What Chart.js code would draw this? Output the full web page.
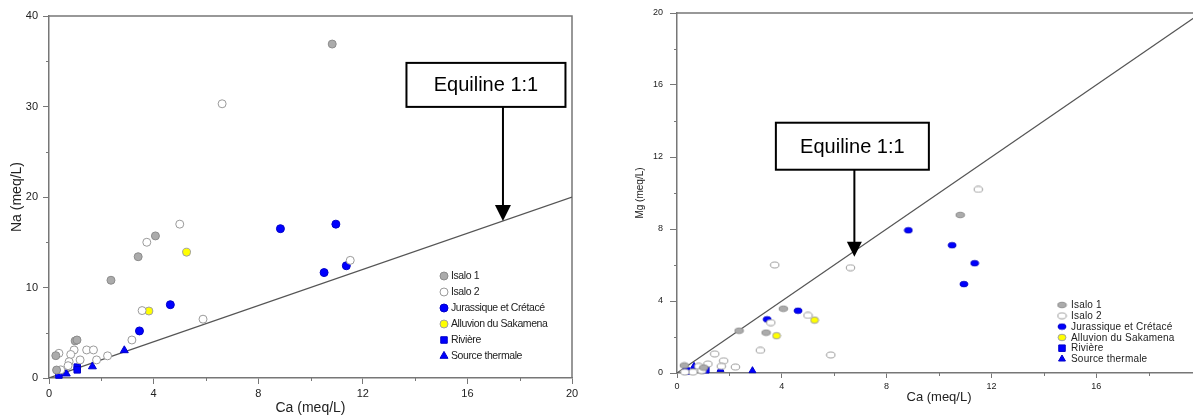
<!DOCTYPE html>
<html>
<head>
<meta charset="utf-8">
<script src="https://cdn.jsdelivr.net/npm/chart.js@4.4.0/dist/chart.umd.min.js"></script>
<style>
html, body { margin: 0; padding: 0; background: #fff; overflow: hidden; width: 1193px; height: 417px; }
#left { position: absolute; left: 0; top: 0; width: 600px; height: 417px; }
#right { position: absolute; left: 600px; top: 0; width: 620px; height: 417px; }
</style>
</head>
<body>
<div id="left"><canvas id="naChart"></canvas></div>
<div id="right"><canvas id="mgChart"></canvas></div>
<script>
// group names (legend order)
const groups = ['Isalo 1', 'Isalo 2', 'Jurassique et Crétacé', 'Alluvion du Sakamena', 'Rivière', 'Source thermale'];

// left panel : Na vs Ca (meq/L)
const naIsalo1Ca = [10.83, 4.07, 3.41, 2.37, 1.0, 1.07, 0.26, 0.29];
const naIsalo1Na = [36.9, 15.7, 13.4, 10.8, 4.1, 4.2, 2.47, 0.88];
const naIsalo2Ca = [6.62, 5.0, 3.74, 11.52, 3.56, 5.89, 3.17, 1.44, 1.7, 0.96, 0.83, 0.38, 1.19, 1.82, 2.24, 0.77, 0.73, 0.45];
const naIsalo2Na = [30.3, 17.0, 15.0, 13.0, 7.45, 6.5, 4.2, 3.1, 3.1, 3.1, 2.6, 2.73, 2.0, 2.0, 2.45, 1.8, 1.36, 0.9];
const naJurCa = [8.85, 10.97, 10.52, 11.37, 4.64, 3.46];
const naJurNa = [16.5, 17.0, 11.65, 12.4, 8.1, 5.2];
const naAlluvCa = [5.26, 3.82];
const naAlluvNa = [13.9, 7.4];
const naRivCa = [0.38, 1.08, 1.08];
const naRivNa = [0.33, 1.2, 0.9];
const naSrcCa = [2.88, 1.66, 0.66];
const naSrcNa = [3.05, 1.27, 0.48];

// right panel : Mg vs Ca (meq/L)
const mgIsalo1Ca = [10.81, 4.06, 3.40, 2.37, 0.28, 1.02];
const mgIsalo1Mg = [8.78, 3.57, 2.24, 2.35, 0.42, 0.3];
const mgIsalo2Ca = [11.5, 3.73, 6.62, 5.0, 3.58, 3.18, 5.87, 1.44, 1.78, 1.18, 0.83, 1.69, 2.23, 0.61, 0.95, 0.3];
const mgIsalo2Mg = [10.2, 6.0, 5.85, 3.2, 2.8, 1.26, 1.0, 1.06, 0.68, 0.5, 0.37, 0.37, 0.33, 0.05, 0.13, 0.05];
const mgJurCa = [8.83, 10.5, 11.36, 10.95, 4.62, 3.44];
const mgJurMg = [7.93, 7.1, 6.1, 4.94, 3.46, 2.98];
const mgAlluvCa = [5.25, 3.8];
const mgAlluvMg = [2.94, 2.07];
const mgRivCa = [0.36, 1.1];
const mgRivMg = [0.11, 0.18];
const mgSrcCa = [2.88, 1.66, 0.65];
const mgSrcMg = [0.13, 0.2, 0.37];

// 1:1 line end points
const equiline = [0, 20];

const FONT = '"Liberation Sans", Arial, sans-serif';
Chart.defaults.font.family = FONT;
Chart.defaults.color = '#222';

function pts(xs, ys) {
    return xs.map((v, i) => ({ x: v, y: ys[i] }));
}

// small ellipse marker for the right panel
function ellipseMark(fill, stroke, w, h) {
    const c = document.createElement('canvas');
    c.width = Math.ceil(w) + 2;
    c.height = Math.ceil(h) + 2;
    const g = c.getContext('2d');
    g.beginPath();
    g.ellipse(c.width / 2, c.height / 2, w / 2, h / 2, 0, 0, Math.PI * 2);
    g.fillStyle = fill;
    g.fill();
    g.strokeStyle = stroke;
    g.lineWidth = 1;
    g.stroke();
    return c;
}

// short outside ticks between the labelled ones
const minorTicks = {
    id: 'minorTicks',
    afterDraw(chart, args, o) {
        const { ctx, scales: { x, y } } = chart;
        ctx.save();
        ctx.strokeStyle = '#777';
        ctx.lineWidth = 1;
        ctx.beginPath();
        for (let v = o.xStep / 2; v < x.max; v += o.xStep) {
            const px = Math.round(x.getPixelForValue(v)) + 0.5;
            ctx.moveTo(px, x.top);
            ctx.lineTo(px, x.top + o.len);
        }
        for (let v = o.yStep / 2; v < y.max; v += o.yStep) {
            const py = Math.round(y.getPixelForValue(v)) + 0.5;
            ctx.moveTo(y.right, py);
            ctx.lineTo(y.right - o.len, py);
        }
        ctx.stroke();
        ctx.restore();
    }
};

// top / right border of the plot
const frame = {
    id: 'frame',
    beforeDatasetsDraw(chart) {
        const { ctx, chartArea: a } = chart;
        ctx.save();
        ctx.strokeStyle = '#777';
        ctx.lineWidth = 1.5;
        ctx.beginPath();
        ctx.moveTo(a.left, a.top);
        ctx.lineTo(a.right, a.top);
        ctx.lineTo(a.right, a.bottom);
        ctx.stroke();
        ctx.restore();
    }
};

// "Equiline 1:1" box with arrow pointing at the line
const equilineNote = {
    id: 'equilineNote',
    afterDatasetsDraw(chart, args, o) {
        const { ctx, scales: { x, y } } = chart;
        const tx = x.getPixelForValue(o.tip[0]);
        const ty = y.getPixelForValue(o.tip[1]);
        ctx.save();
        ctx.strokeStyle = '#000';
        ctx.fillStyle = '#000';
        ctx.lineWidth = 2;
        ctx.beginPath();
        ctx.moveTo(tx, ty - o.len);
        ctx.lineTo(tx, ty - o.head + 1);
        ctx.stroke();
        ctx.beginPath();
        ctx.moveTo(tx, ty);
        ctx.lineTo(tx - o.head / 2, ty - o.head);
        ctx.lineTo(tx + o.head / 2, ty - o.head);
        ctx.closePath();
        ctx.fill();
        const bx = tx + o.dx - o.w / 2;
        const by = ty - o.len - o.h;
        ctx.fillStyle = '#fff';
        ctx.fillRect(bx, by, o.w, o.h);
        ctx.strokeRect(bx, by, o.w, o.h);
        ctx.fillStyle = '#000';
        ctx.font = '20px ' + FONT;
        ctx.textAlign = 'center';
        ctx.textBaseline = 'middle';
        ctx.fillText(o.text, bx + o.w / 2, by + o.h / 2 + 1);
        ctx.restore();
    }
};

// legend drawn inside the plot
const insideLegend = {
    id: 'insideLegend',
    afterDatasetsDraw(chart, args, o) {
        const ctx = chart.ctx;
        ctx.save();
        if (o.clipBottom) {
            ctx.beginPath();
            ctx.rect(0, 0, chart.width, o.clipBottom);
            ctx.clip();
        }
        let row = 0;
        chart.data.datasets.forEach(ds => {
            if (ds.type === 'line') return;
            const yy = o.y + row * o.rowH;
            ctx.fillStyle = ds.backgroundColor;
            ctx.strokeStyle = ds.borderColor;
            ctx.lineWidth = ds.borderWidth;
            Chart.helpers.drawPoint(ctx, {
                pointStyle: ds.pointStyle, radius: ds.pointRadius,
                borderWidth: ds.borderWidth, rotation: 0
            }, o.x, yy);
            ctx.fillStyle = '#222';
            ctx.font = o.font;
            ctx.letterSpacing = o.spacing || '0px';
            ctx.textAlign = 'left';
            ctx.textBaseline = 'middle';
            ctx.fillText(ds.label, o.textX, yy + 0.5);
            row++;
        });
        ctx.restore();
    }
};

function groupSets(data, marks) {
    const fills = ['#ababab', '#ffffff', '#0000ff', '#ffff00', '#0000ff', '#0000ff'];
    const borders = ['#8c8c8c', '#9a9a9a', '#0000c8', '#a0a0a0', '#0000c8', '#0000c8'];
    return groups.map((g, i) => ({
        label: g,
        data: data[i],
        backgroundColor: fills[i],
        borderColor: borders[i],
        borderWidth: 1,
        pointStyle: marks[i].style,
        pointRadius: marks[i].r,
        pointHoverRadius: marks[i].r,
        clip: false,
        order: 1
    }));
}

function lineSet() {
    return {
        type: 'line',
        label: '',
        data: pts(equiline, equiline),
        borderColor: '#555',
        borderWidth: 1.2,
        pointRadius: 0,
        fill: false,
        order: 10
    };
}

function scaleOpts(o) {
    return {
        type: 'linear',
        min: 0,
        max: o.max,
        afterFit: s => { if (o.w) s.width = o.w; if (o.h) s.height = o.h; },
        border: { color: '#777', width: 1.5 },
        grid: { drawOnChartArea: false, color: '#777', tickLength: o.tick },
        ticks: { stepSize: o.step, padding: o.pad, color: '#222', font: { size: o.font } },
        title: { display: true, text: o.title, color: '#222', font: { size: o.tfont }, padding: o.tpad }
    };
}

// left chart : Na
new Chart(document.getElementById('naChart'), {
    type: 'scatter',
    data: {
        datasets: [lineSet()].concat(groupSets([
            pts(naIsalo1Ca, naIsalo1Na), pts(naIsalo2Ca, naIsalo2Na), pts(naJurCa, naJurNa),
            pts(naAlluvCa, naAlluvNa), pts(naRivCa, naRivNa), pts(naSrcCa, naSrcNa)
        ], [
            { style: 'circle', r: 4 }, { style: 'circle', r: 4 }, { style: 'circle', r: 4 },
            { style: 'circle', r: 4 }, { style: 'rect', r: 4.6 }, { style: 'triangle', r: 4.6 }
        ]))
    },
    options: {
        responsive: true,
        maintainAspectRatio: false,
        animation: false,
        layout: { padding: { top: 16, right: 28, left: 0, bottom: 0 } },
        scales: {
            x: scaleOpts({ max: 20, step: 4, h: 39, tick: 6, pad: 3, font: 11, title: 'Ca (meq/L)', tfont: 14, tpad: { top: 0, bottom: 0 } }),
            y: scaleOpts({ max: 40, step: 10, w: 49, tick: 6, pad: 5, font: 11, title: 'Na (meq/L)', tfont: 14, tpad: { top: 9, bottom: 0 } })
        },
        plugins: {
            legend: { display: false },
            tooltip: { enabled: false },
            minorTicks: { xStep: 4, yStep: 10, len: 3 },
            insideLegend: { x: 444, y: 276, rowH: 16, textX: 451, font: '10.5px ' + FONT, spacing: '-0.4px' },
            equilineNote: { tip: [17.36, 17.36], len: 114, head: 16, w: 159, h: 44, dx: -17, text: 'Equiline 1:1' }
        }
    },
    plugins: [frame, minorTicks, insideLegend, equilineNote]
});

// right chart : Mg
new Chart(document.getElementById('mgChart'), {
    type: 'scatter',
    data: {
        datasets: [lineSet()].concat(groupSets([
            pts(mgIsalo1Ca, mgIsalo1Mg), pts(mgIsalo2Ca, mgIsalo2Mg), pts(mgJurCa, mgJurMg),
            pts(mgAlluvCa, mgAlluvMg), pts(mgRivCa, mgRivMg), pts(mgSrcCa, mgSrcMg)
        ], [
            { style: ellipseMark('#ababab', '#8c8c8c', 8.5, 5.5), r: 4 },
            { style: ellipseMark('#ffffff', '#9a9a9a', 8.5, 6), r: 4 },
            { style: ellipseMark('#0000ff', '#0000c8', 8, 5.5), r: 4 },
            { style: ellipseMark('#ffff00', '#a0a0a0', 8, 6.5), r: 4 },
            { style: 'rect', r: 4.6 },
            { style: 'triangle', r: 4 }
        ]))
    },
    options: {
        responsive: true,
        maintainAspectRatio: false,
        animation: false,
        layout: { padding: { top: 13, right: 19, left: 0, bottom: 0 } },
        scales: {
            x: scaleOpts({ max: 20, step: 4, h: 44, tick: 5, pad: 3, font: 9, title: 'Ca (meq/L)', tfont: 13, tpad: { top: 0, bottom: 12 } }),
            y: scaleOpts({ max: 20, step: 4, w: 77, tick: 7, pad: 7, font: 9, title: 'Mg (meq/L)', tfont: 10, tpad: { top: 34, bottom: 0 } })
        },
        plugins: {
            legend: { display: false },
            tooltip: { enabled: false },
            minorTicks: { xStep: 4, yStep: 4, len: 3 },
            insideLegend: { x: 462, y: 305, rowH: 10.8, textX: 471, font: '10px ' + FONT, spacing: '0.2px', clipBottom: 363 },
            equilineNote: { tip: [6.77, 6.46], len: 87, head: 15, w: 153, h: 47, dx: -2, text: 'Equiline 1:1' }
        }
    },
    plugins: [frame, minorTicks, insideLegend, equilineNote]
});
</script>
</body>
</html>
